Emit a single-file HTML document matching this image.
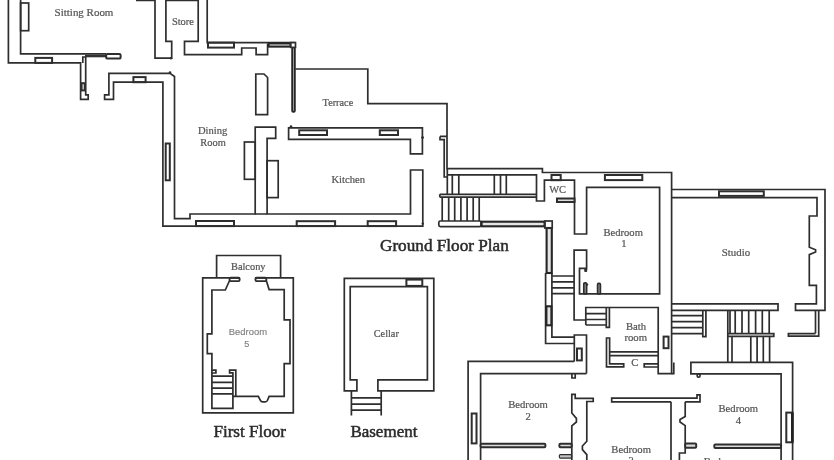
<!DOCTYPE html>
<html><head><meta charset="utf-8">
<style>
html,body{margin:0;padding:0;background:#fff;}
body{width:834px;height:460px;overflow:hidden;position:relative;font-family:"Liberation Serif",serif;}
svg{position:absolute;left:0;top:0;display:block;filter:blur(0.35px);}
.w{fill:none;stroke:#2e2e2e;stroke-width:1.7;stroke-linejoin:miter;stroke-linecap:butt;}
.wn{stroke-width:2;}
.k{fill:none;stroke:#222;stroke-width:2.4;}
.g{fill:#c4c4c4;stroke:#2e2e2e;stroke-width:1.2;}
.gw{fill:#e4e4e4;stroke:#262626;stroke-width:2.1;}
.b{fill:#2e2e2e;stroke:none;}
text{font-family:"Liberation Serif",serif;fill:#555;stroke:#555;stroke-width:0.22;}
.s{font-size:10.6px;}
.t{font-size:17.2px;fill:#2b2b2b;stroke:#2b2b2b;stroke-width:0.5;}
.sa{font-family:"Liberation Sans",sans-serif;font-size:9.2px;fill:#808080;stroke:#808080;stroke-width:0.15;}
</style></head><body>
<svg width="834" height="460" viewBox="0 0 834 460">
<g id="plan" class="w">
<!-- SITTING ROOM -->
<path d="M8.4,-1 V62.9 H80.6 V99.4 H88.2 V94.8 H85.7 V57 H82.8 V62.9"/>
<path d="M20.6,-1 V53.9 H106"/>
<path class="k" d="M85,56 H106.4" style="stroke:#333;stroke-width:2.6"/>
<rect class="w wn" x="106.2" y="53.9" width="14.4" height="4.7" rx="1.2"/>
<rect x="20.6" y="3" width="8.1" height="27.7"/>
<rect class="w wn" x="35.3" y="57.9" width="16.8" height="5"/>
<rect class="w wn" x="81.6" y="83.2" width="3.1" height="7.2"/>
<!-- DINING UPPER LEFT -->
<path d="M104.6,94.8 V99.4 H113.5 V82.2 H162.9 V226.1 H422.8 V170 H410.5 V214 H267.1 V138.3 H275.7 V127.2 H255.2 V214 H190 V218.7 H174.5 V76.5 L170,73.4 H108.9 V94.8 Z"/>
<rect class="w wn" x="133.4" y="77.1" width="12.2" height="5.1"/>
<rect class="w wn" x="165.7" y="143.5" width="4.1" height="36.8"/>
<rect x="244.4" y="142" width="10.8" height="37.3"/>
<rect x="267.1" y="160.7" width="11.1" height="36.9"/>
<rect class="w wn" x="196" y="221" width="38" height="5.1"/>
<rect class="w wn" x="296.7" y="221.2" width="38.4" height="4.9"/>
<rect class="w wn" x="367.7" y="221.2" width="28.4" height="4.9"/>
<!-- STORE -->
<path d="M136,0.4 H155 V58.2 H171.7 V41.3 H165.9 V0.4 H198.2 V41.3 H184.5 V54.7 H241.7 V48 H256.1 V54.7 H267.6 V43.8 M255.2,214 H267.1"/>
<path d="M207.2,-1 V42.6 H295.3"/>
<rect class="w wn" x="208" y="42.6" width="26" height="5"/>
<rect class="gw" x="268.6" y="43.4" width="22" height="3.2"/>
<rect class="gw" x="292.2" y="47.4" width="2.6" height="64.4" rx="1" style="stroke-width:1.9;fill:#c8c8c8"/>
<rect x="290.8" y="42.6" width="4.7" height="4.8" style="fill:#fff"/>
<path d="M255.8,114.6 V74 H264 L267.6,77.5 V114.6 Z"/>
<!-- KITCHEN TOP WALL -->
<path d="M288.6,127.8 H422.4 V153.9 H410.4 V139.3 H288.6 Z"/>
<rect class="w wn" x="299.2" y="130.3" width="27.8" height="4.7"/>
<rect class="w wn" x="379.8" y="130.3" width="18.2" height="4.7"/>
<!-- TERRACE + outer -->
<path d="M295.3,69 H367.8 V103.7 H447 V168.7 H542.4 V172.5 H671.6 V373.6 H659"/>
<path d="M440,136.4 H447 M440,136.4 V139.7 H444.2 V177 H447.3"/>
<!-- STAIRS 1 -->
<path d="M447.3,174.8 H536.5 V201 H544.4 V180.2 H574.5 V234 H586.6 V187.4 H659.6 V293.9 H579.5 V268.4 H586.6 V250.2 H574.1 V320 H585.8"/>
<path d="M447.3,168.7 V194.2 M452.3,174.8 V194.2 M458.8,174.8 V194.2 M494.3,174.8 V194.2 M500.5,174.8 V194.2 M506.3,174.8 V194.2"/>
<path d="M439.8,194.3 H536 M439.8,197.2 H536 M439.8,194.3 V197.2"/>
<path d="M442.2,197.2 V221 M448.7,197.2 V221 M454.7,197.2 V221 M460.9,197.2 V221 M467.1,197.2 V221 M473.2,197.2 V221 M479.2,197.2 V221"/>
<rect class="w" x="438.8" y="221" width="42.2" height="5.6" rx="1.5"/>
<path d="M551.9,273 V337.2 H574.3"/>
<rect class="gw" x="481.6" y="221.7" width="63" height="4.6"/>
<rect class="gw" x="546.6" y="228" width="5.2" height="45"/>
<rect x="544.8" y="221" width="7.4" height="7"/>
<path d="M545.6,273 V343.5 H574.3"/>
<rect class="gw" x="546.4" y="306.3" width="5" height="19"/>
<path d="M551.9,276 H574.1 M551.9,281.8 H574.1 M551.9,287.8 H574.1 M551.9,293.7 H574.1"/>
<!-- WC -->
<rect class="w wn" x="551.5" y="175" width="9.2" height="5.2"/>
<rect class="w wn" style="fill:#dcdcdc" x="557" y="198.5" width="17.5" height="3.5"/>
<rect class="w wn" x="604.9" y="175" width="37.4" height="5.1"/>
<rect class="w" x="583.8" y="282.8" width="2.8" height="11.1" rx="1" style="fill:#999"/>
<rect class="w" x="597.6" y="283.4" width="2.8" height="10.5" rx="1" style="fill:#999"/>
<!-- STUDIO -->
<path d="M671.6,189.5 H825 V310.3 H795.5 V303.8 H816.4 V285.3 H809.3 V254.6 L815.6,252 V249.8 L809.3,247.2 V216 H817 V197.6 H671.6"/>
<rect class="w wn" x="719" y="191.3" width="44.8" height="4.6"/>
<path d="M671.6,303.8 H778 V310.3 H671.6"/>
<path d="M815.5,310.3 V333.6 M818.7,310.3 V336.1 H788.4 V333.6 H815.5"/>
<path d="M671.6,315.6 H702.8 M671.6,321.6 H702.8 M671.6,327.6 H702.8 M671.6,333.6 H702.8 M702.8,310.3 V336.7 H705.9 V310.3"/>
<path d="M727.8,310.3 V362.4 M730,310.3 V333.6 M735.2,310.3 V333.6 M742,310.3 V333.6 M748.7,310.3 V333.6 M755.6,310.3 V333.6 M762.3,310.3 V333.6 M769.2,310.3 V333.6"/>
<path d="M727.8,333.6 H773.8 V336.3 H727.8"/>
<path d="M732,336.3 V362.4 M750.8,336.3 V362.4 M757.1,336.3 V362.4 M763.3,336.3 V362.4 M769.6,336.3 V362.4"/>
<rect class="w wn" x="663.6" y="336.6" width="4.9" height="11.6"/>
<path d="M673.8,362.4 V373.6 H671.6"/>
<!-- BATHROOM -->
<path d="M585.8,325 V307.5 H658.2 V373.6 H659"/>
<path d="M585.8,313.7 H606.3 M585.8,319.5 H606.3 M585.8,325 H606.3 M606.3,307.5 V327.4 H609.4 V307.5"/>
<path d="M606.5,338 V366.8 H623.7 V363.9 H609.6 V338 Z"/>
<path d="M609.6,351.8 H658.2 M609.6,355.6 H658.2"/>
<path d="M658.2,363.9 H644.2 V367 H658.2"/>
<!-- box -->
<path d="M574.3,361.4 V335 H586.5 V373.6"/>
<rect class="w wn" x="577" y="348.5" width="4.8" height="11.9"/>
<!-- BEDROOM 2 -->
<path d="M468.1,461 V361.4 H574.3"/>
<path d="M480.6,461 V373.6 H586.5"/>
<rect class="w wn" x="471.7" y="413.5" width="4.8" height="29.9"/>
<rect class="w wn" style="fill:#dcdcdc" x="480.6" y="443.8" width="64.8" height="3.5" rx="1"/>
<rect class="w wn" style="fill:#dcdcdc" x="559.4" y="443.8" width="12.3" height="3.5" rx="1"/>
<rect x="559.4" y="454.6" width="12.3" height="3.5" rx="1" class="g"/>
<rect x="577.1" y="352" width="4.8" height="8.9" style="display:none"/>
<path d="M571.9,373.6 V378 H575.2 V373.6"/>
<path d="M571.8,461 V425.8 L576.4,422 V418.4 L571.8,413 V394.4 H575.2 V398.4 H593.2 V401.5 H586.8 V441.2 L582.4,446 V449.6 L586.8,454.6 V461"/>
<!-- BEDROOM 3 -->
<path d="M671,401.8 H611.7 V398.1 H697 V394.8 H700 V401.8 H685.2"/>
<path d="M671,401.8 V461"/>
<path d="M685.2,401.8 V416.6 L680,419.6 V422 L685.2,425.6 V453 H679.4 V461"/>
<rect class="w wn" style="fill:#dcdcdc" x="685.2" y="443.6" width="11" height="4.2" rx="1"/>
<rect class="w wn" style="fill:#dcdcdc" x="714.3" y="444.4" width="66.8" height="3.7" rx="1"/>
<rect x="612.2" y="398.1" width="0" height="0"/>
<!-- BEDROOM 4 -->
<path d="M781.1,461 V373.8 H690.9 V362.4 H792.6 V461"/>
<rect class="w wn" x="786.3" y="412.6" width="6.3" height="29.7"/>
<path class="k" d="M792.2,412.6 V442.3"/>
<!-- FIRST FLOOR -->
<path d="M216.6,277.8 V255.5 H280.6 V277.8"/>
<path d="M239.6,277.8 H202.7 V412.9 H293.3 V277.8 H255.5"/>
<rect x="229.6" y="277.8" width="10" height="3.3" rx="1" style="stroke-width:1.9"/>
<rect x="255.5" y="277.8" width="10.8" height="3.3" rx="1" style="stroke-width:1.9"/>
<path d="M229.6,280.5 L225.3,290 H211.9 V333.8 H207.3 V353.6 H211.9 V408.3 H232.9 V396.3 H258.3 L260.4,400.4 Q261,401.9 262.8,401.9 H265.2 Q267,401.9 267.4,400.4 L269.1,396.3 H284.2 V363.6 H290 V319.9 H284.2 V289.6 H269.1 L266.3,280.5"/>
<path d="M211.9,376.2 H232.9 M211.9,382.3 H232.9 M211.9,388.1 H232.9 M211.9,393.9 H232.9"/>
<path d="M232.9,396.3 V372.8 H229.6 V370.1 H235.8 V396.3"/>
<path d="M211.9,370.1 H215.9 V373 H211.9"/>
<!-- BASEMENT -->
<path d="M344.3,278.3 H433.8 V390.8 H377.9 V379.9 H427.4 V286.7 H350.2 V379.9 H356.9 V390.8 H344.3 Z"/>
<rect class="w wn" x="406.4" y="279.6" width="15.9" height="6.3"/>
<path d="M351.4,390.8 V415.5 M381.2,390.8 V415.5 M351.4,397.9 H381.2 M351.4,404.1 H381.2 M351.4,410.1 H381.2"/>
</g>
<g>
<circle class="b" cx="422.6" cy="137.6" r="1.4"/>
<circle class="b" cx="171" cy="58.2" r="1.2"/>
<circle class="b" cx="170" cy="72.6" r="1.3"/>
<rect class="w" x="697.2" y="373.8" width="2.8" height="3.4" rx="1.2"/>
<circle class="b" cx="291" cy="126.6" r="1.3"/>
<rect class="b" x="584.2" y="268.6" width="3" height="3.4" rx="1"/>
<circle class="b" cx="587" cy="284.6" r="1.2"/>
<circle class="b" cx="422.8" cy="223.6" r="1.2"/>
</g>
<g class="s">
<text x="54.6" y="15.5" textLength="58.8" lengthAdjust="spacingAndGlyphs">Sitting Room</text>
<text x="171.9" y="25.2" textLength="22.1" lengthAdjust="spacingAndGlyphs">Store</text>
<text x="322.6" y="105.8" textLength="30.6" lengthAdjust="spacingAndGlyphs">Terrace</text>
<text x="198" y="133.9" textLength="29.3" lengthAdjust="spacingAndGlyphs">Dining</text>
<text x="200.3" y="146.2" textLength="25.5" lengthAdjust="spacingAndGlyphs">Room</text>
<text x="331.4" y="182.5" textLength="33.6" lengthAdjust="spacingAndGlyphs">Kitchen</text>
<text x="549.2" y="192.6" textLength="16.8" lengthAdjust="spacingAndGlyphs">WC</text>
<text x="603.5" y="235.6" textLength="39.4" lengthAdjust="spacingAndGlyphs">Bedroom</text>
<text x="621.2" y="247.3">1</text>
<text x="721.8" y="256.2" textLength="28.4" lengthAdjust="spacingAndGlyphs">Studio</text>
<text x="626" y="329.6" textLength="20.1" lengthAdjust="spacingAndGlyphs">Bath</text>
<text x="624.4" y="341.1" textLength="22.7" lengthAdjust="spacingAndGlyphs">room</text>
<text x="631.2" y="366.2">C</text>
<text x="508.2" y="407.9" textLength="39.7" lengthAdjust="spacingAndGlyphs">Bedroom</text>
<text x="525.5" y="420.4">2</text>
<text x="611.3" y="452.7" textLength="39.7" lengthAdjust="spacingAndGlyphs">Bedroom</text>
<text x="628.6" y="464.2">3</text>
<text x="718.5" y="411.6" textLength="39.6" lengthAdjust="spacingAndGlyphs">Bedroom</text>
<text x="735.8" y="423.5">4</text>
<text x="703.8" y="465.3" textLength="39.6" lengthAdjust="spacingAndGlyphs">Bedroom</text>
<text x="231" y="269.6" textLength="34.5" lengthAdjust="spacingAndGlyphs">Balcony</text>
<text x="373.7" y="337" textLength="25.2" lengthAdjust="spacingAndGlyphs">Cellar</text>
</g>
<text class="sa" x="228.8" y="334.5" textLength="38.2" lengthAdjust="spacingAndGlyphs">Bedroom</text>
<text class="sa" x="244.2" y="346.9">5</text>
<text class="t" x="380" y="250.6" textLength="128.8" lengthAdjust="spacingAndGlyphs">Ground Floor Plan</text>
<text class="t" x="213.4" y="437.4" textLength="72.6" lengthAdjust="spacingAndGlyphs">First Floor</text>
<text class="t" x="350.4" y="437.4" textLength="67" lengthAdjust="spacingAndGlyphs">Basement</text>
</svg>
</body></html>
